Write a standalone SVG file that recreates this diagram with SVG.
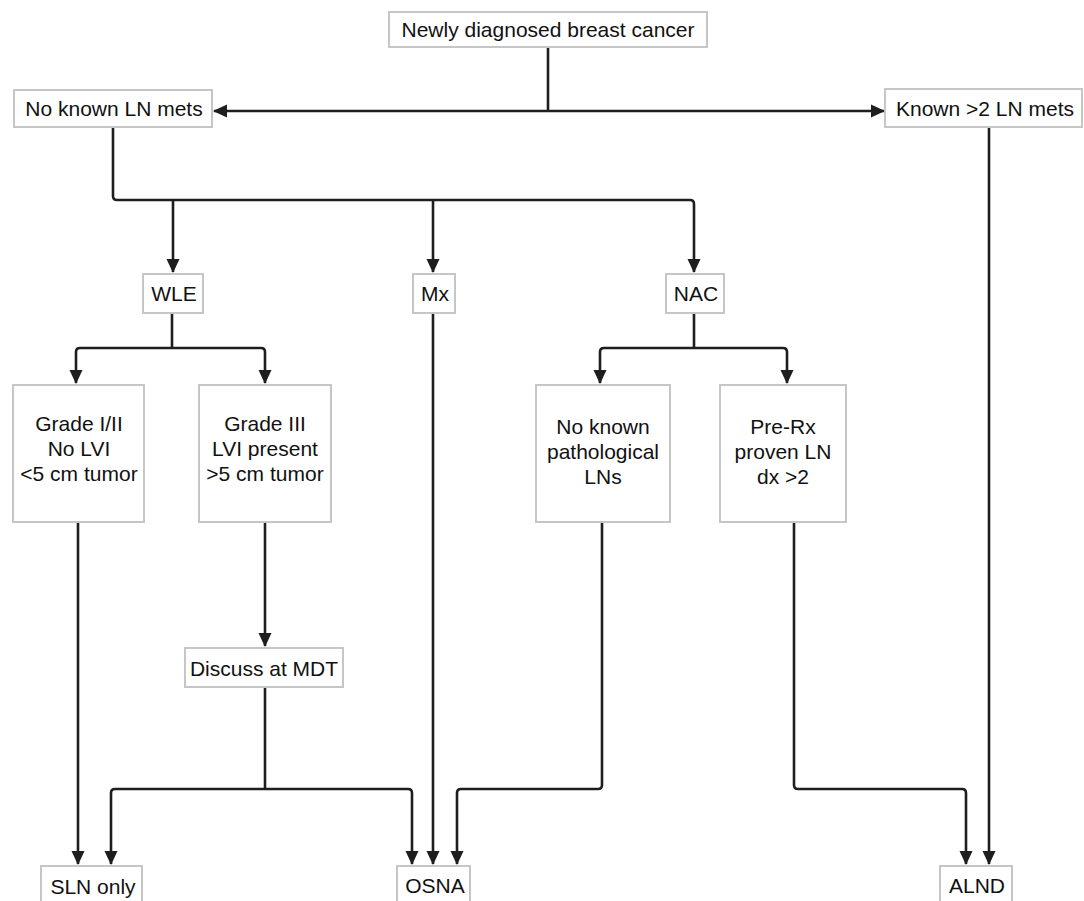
<svg xmlns="http://www.w3.org/2000/svg" width="1084" height="901" viewBox="0 0 1084 901">
  <style>
    .box { fill: #ffffff; stroke: #c6c6c6; stroke-width: 2; }
    .t { font-family: "Liberation Sans", Arial, sans-serif; font-size: 21px; fill: #111111; text-anchor: middle; }
    .c { fill: none; stroke: #1e1e1e; stroke-width: 2.6; stroke-linejoin: round; }
    .a { marker-end: url(#ah); }
  </style>
  <defs>
    <marker id="ah" markerUnits="userSpaceOnUse" markerWidth="14" markerHeight="14" viewBox="0 0 14 14" refX="13" refY="7" orient="auto-start-reverse">
      <path d="M0,0.5 L14,7 L0,13.5 z" fill="#1e1e1e"/>
    </marker>
  </defs>
  <rect width="1084" height="901" fill="#ffffff"/>

  <g id="connectors">
    <path class="c" d="M548,47 V111"/>
    <path class="c" d="M214,111 H884" marker-start="url(#ah)" marker-end="url(#ah)"/>
    <path class="c a" d="M113,127 V196 Q113,200 117,200 H690 Q694,200 694,204 V272"/>
    <path class="c a" d="M173,200 V272"/>
    <path class="c a" d="M433,200 V272"/>
    <path class="c" d="M172,313 V348"/>
    <path class="c a" d="M172,348 H80 Q76,348 76,352 V383"/>
    <path class="c a" d="M172,348 H261 Q265,348 265,352 V383"/>
    <path class="c" d="M694,313 V348"/>
    <path class="c a" d="M694,348 H604 Q600,348 600,352 V383"/>
    <path class="c a" d="M694,348 H783 Q787,348 787,352 V383"/>
    <path class="c a" d="M78,522 V864"/>
    <path class="c a" d="M265,522 V646"/>
    <path class="c" d="M265,687 V789"/>
    <path class="c a" d="M265,789 H115 Q111,789 111,793 V864"/>
    <path class="c a" d="M265,789 H408 Q412,789 412,793 V864"/>
    <path class="c a" d="M433,313 V864"/>
    <path class="c a" d="M602,522 V785 Q602,789 598,789 H461 Q457,789 457,793 V864"/>
    <path class="c a" d="M794,522 V785 Q794,789 798,789 H962 Q966,789 966,793 V864"/>
    <path class="c a" d="M989,127 V864"/>
  </g>

  <g id="n-newly">
    <rect class="box" x="389" y="12" width="318" height="35"/>
    <text class="t" x="548" y="37">Newly diagnosed breast cancer</text>
  </g>
  <g id="n-noknown">
    <rect class="box" x="14" y="90" width="198" height="37"/>
    <text class="t" x="114" y="116">No known LN mets</text>
  </g>
  <g id="n-known">
    <rect class="box" x="885" y="89" width="197" height="38"/>
    <text class="t" x="985" y="116">Known &gt;2 LN mets</text>
  </g>
  <g id="n-wle">
    <rect class="box" x="143" y="274" width="60" height="39"/>
    <text class="t" x="174" y="301">WLE</text>
  </g>
  <g id="n-mx">
    <rect class="box" x="413" y="274" width="42" height="39"/>
    <text class="t" x="435" y="301">Mx</text>
  </g>
  <g id="n-nac">
    <rect class="box" x="666" y="274" width="58" height="39"/>
    <text class="t" x="696" y="301">NAC</text>
  </g>
  <g id="n-grade12">
    <rect class="box" x="13" y="385" width="131" height="137"/>
    <text class="t" x="79" y="431">Grade I/II</text>
    <text class="t" x="79" y="456">No LVI</text>
    <text class="t" x="79" y="481">&lt;5 cm tumor</text>
  </g>
  <g id="n-grade3">
    <rect class="box" x="199" y="385" width="132" height="137"/>
    <text class="t" x="265" y="431">Grade III</text>
    <text class="t" x="265" y="456">LVI present</text>
    <text class="t" x="265" y="481">&gt;5 cm tumor</text>
  </g>
  <g id="n-nopath">
    <rect class="box" x="536" y="385" width="134" height="137"/>
    <text class="t" x="603" y="434">No known</text>
    <text class="t" x="603" y="459">pathological</text>
    <text class="t" x="603" y="484">LNs</text>
  </g>
  <g id="n-prerx">
    <rect class="box" x="720" y="385" width="126" height="137"/>
    <text class="t" x="783" y="434">Pre-Rx</text>
    <text class="t" x="783" y="459">proven LN</text>
    <text class="t" x="783" y="484">dx &gt;2</text>
  </g>
  <g id="n-mdt">
    <rect class="box" x="185" y="648" width="158" height="39"/>
    <text class="t" x="264" y="676">Discuss at MDT</text>
  </g>
  <g id="n-sln">
    <rect class="box" x="41" y="866" width="101" height="42"/>
    <text class="t" x="93" y="894">SLN only</text>
  </g>
  <g id="n-osna">
    <rect class="box" x="397" y="866" width="73" height="42"/>
    <text class="t" x="435" y="893">OSNA</text>
  </g>
  <g id="n-alnd">
    <rect class="box" x="940" y="866" width="72" height="42"/>
    <text class="t" x="977" y="893">ALND</text>
  </g>
</svg>
